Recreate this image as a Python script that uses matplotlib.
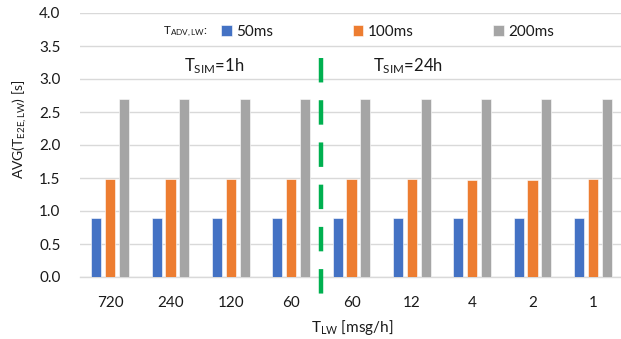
import matplotlib
matplotlib.use("Agg")
import matplotlib.pyplot as plt
import numpy as np

categories = ["720", "240", "120", "60", "60", "12", "4", "2", "1"]
series_names = ["50ms", "100ms", "200ms"]
v50 = [0.90, 0.90, 0.90, 0.89, 0.89, 0.90, 0.90, 0.90, 0.90]
v100 = [1.48, 1.48, 1.48, 1.48, 1.48, 1.48, 1.47, 1.47, 1.48]
v200 = [2.69, 2.69, 2.70, 2.69, 2.69, 2.69, 2.69, 2.69, 2.70]
colors = ["#4472C4", "#ED7D31", "#A5A5A5"]

plt.rcParams['font.family'] = ['Lato', 'DejaVu Sans']
plt.rcParams['mathtext.fontset'] = 'custom'
plt.rcParams['mathtext.rm'] = 'Lato'
plt.rcParams['mathtext.it'] = 'Lato'
plt.rcParams['mathtext.default'] = 'rm'

W, H = 621, 339
fig = plt.figure(figsize=(W/100, H/100), dpi=100)
ax = fig.add_axes([80/W, 1-277/H, 543/W, 264/H])

x = np.arange(len(categories))
bw = 0.166
step = 0.227
bars = []
for i, (vals, c, n) in enumerate(zip([v50, v100, v200], colors, series_names)):
    b = ax.bar(x + (i-1)*step, vals, width=bw, color=c, edgecolor='white', linewidth=0.4, label=n, zorder=3)
    bars.append(b)

ax.set_xlim(-0.5, len(categories)-0.5)
ax.set_ylim(0, 4.0)
ax.set_yticks(np.arange(0, 4.01, 0.5))
ax.set_yticklabels([f"{v:.1f}" for v in np.arange(0, 4.01, 0.5)])
ax.set_xticks(x)
ax.set_xticklabels(categories)
ax.tick_params(axis='both', length=0, labelsize=11, colors='#1a1a1a')
ax.tick_params(axis='y', pad=14)
ax.tick_params(axis='x', pad=14)
ax.grid(axis='y', color='#D9D9D9', linewidth=1.0, zorder=0)
for s in ['top', 'right', 'left']:
    ax.spines[s].set_visible(False)
ax.spines['bottom'].set_color('#D9D9D9')
ax.spines['bottom'].set_linewidth(1.0)

# divider
ax.plot([3.5, 3.5], [3.32, -0.4], color='#00B050', linewidth=3.2, linestyle=(0, (5.5, 4)),
        clip_on=False, zorder=4)

ax.set_ylabel(r"AVG(T$_{\mathrm{E2E,LW}}$) [s]", fontsize=10, color='#1a1a1a')
ax.yaxis.set_label_coords((29-80)/543, (277-129)/264)
ax.set_xlabel(r"T$_{\mathrm{LW}}$ [msg/h]", fontsize=11, color='#1a1a1a')
ax.xaxis.set_label_coords((352-80)/543, -(318-277)/264)

fig.text(163/W, 1-32/H, r"T$_{\mathrm{ADV,LW}}$:", fontsize=8.5, color='#1a1a1a', va='center', ha='left')
leg = fig.legend(handles=bars, labels=series_names, ncol=3, frameon=False, loc='center left',
                 bbox_to_anchor=(221/W, 1-32/H), fontsize=11, handlelength=0.7, handleheight=0.7,
                 handletextpad=0.3, columnspacing=5.2, borderpad=0, borderaxespad=0)
for t in leg.get_texts():
    t.set_color('#1a1a1a')

fig.text(184/W, 1-66/H, r"T$_{\mathrm{SIM}}$=1h", fontsize=12, color='#1a1a1a', va='center', ha='left')
fig.text(373/W, 1-66/H, r"T$_{\mathrm{SIM}}$=24h", fontsize=12, color='#1a1a1a', va='center', ha='left')

fig.savefig("out.png", dpi=100)
